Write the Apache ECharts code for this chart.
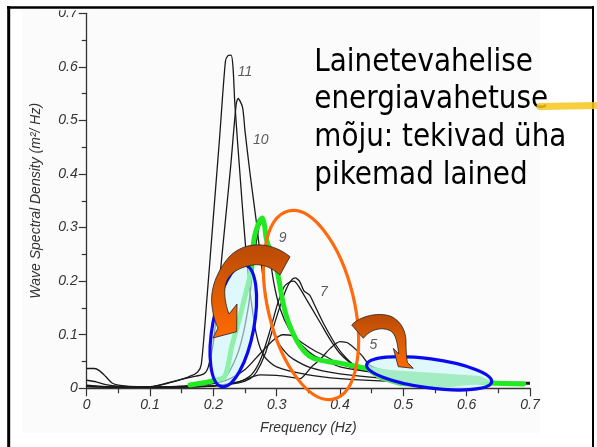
<!DOCTYPE html>
<html><head><meta charset="utf-8">
<script src="https://cdn.jsdelivr.net/npm/echarts@6/dist/echarts.min.js"></script>
<style>html,body{margin:0;padding:0;background:#fff}#c{width:597px;height:447px}</style>
</head><body><div id="c"></div>
<script>
// ---- tick labels ----
const xTickLabels = ['0','0.1','0.2','0.3','0.4','0.5','0.6','0.7'];
const yTickLabels = ['0','0.1','0.2','0.3','0.4','0.5','0.6','0.7'];

// ---- spectra [frequency Hz, density m^2/Hz] ----
const curve11 = [[0,0.015],[0.015,0.012],[0.03,0.007],[0.05,0.004],[0.1,0.003],[0.13,0.01],[0.16,0.021],[0.175,0.03],[0.181,0.045],[0.19,0.17],[0.2,0.32],[0.21,0.47],[0.219,0.61],[0.223,0.621],[0.228,0.622],[0.231,0.6],[0.234,0.53],[0.242,0.4],[0.25,0.277],[0.258,0.18],[0.268,0.1],[0.28,0.06],[0.3,0.04],[0.35,0.025],[0.4,0.018],[0.5,0.012],[0.6,0.01],[0.7,0.008]];
const curve10 = [[0,0.037],[0.012,0.037],[0.02,0.033],[0.03,0.022],[0.04,0.01],[0.05,0.006],[0.08,0.003],[0.1,0.003],[0.14,0.014],[0.165,0.021],[0.185,0.027],[0.192,0.04],[0.2,0.085],[0.208,0.18],[0.216,0.277],[0.227,0.41],[0.236,0.53],[0.239,0.541],[0.246,0.525],[0.25,0.48],[0.258,0.4],[0.268,0.31],[0.277,0.22],[0.288,0.14],[0.3,0.09],[0.32,0.06],[0.35,0.04],[0.4,0.027],[0.5,0.016],[0.6,0.011],[0.7,0.009]];
const curve9 = [[0,0.006],[0.05,0.002],[0.1,0.002],[0.15,0.004],[0.2,0.01],[0.22,0.022],[0.24,0.07],[0.255,0.15],[0.265,0.25],[0.272,0.3],[0.278,0.312],[0.285,0.28],[0.295,0.2],[0.305,0.15],[0.32,0.11],[0.34,0.08],[0.36,0.06],[0.374,0.053],[0.4,0.04],[0.45,0.03],[0.5,0.02],[0.6,0.012],[0.7,0.01]];
const curve8 = [[0,0.005],[0.05,0.002],[0.1,0.002],[0.2,0.004],[0.24,0.012],[0.26,0.025],[0.275,0.055],[0.29,0.11],[0.302,0.16],[0.312,0.19],[0.32,0.198],[0.327,0.2],[0.335,0.19],[0.345,0.17],[0.355,0.15],[0.37,0.12],[0.385,0.09],[0.4,0.065],[0.42,0.045],[0.45,0.032],[0.5,0.022],[0.6,0.013],[0.7,0.011]];
const curve7 = [[0,0.004],[0.05,0.002],[0.1,0.002],[0.2,0.004],[0.24,0.01],[0.258,0.018],[0.268,0.03],[0.282,0.065],[0.295,0.115],[0.305,0.152],[0.315,0.185],[0.322,0.2],[0.329,0.206],[0.336,0.2],[0.343,0.182],[0.352,0.174],[0.36,0.155],[0.374,0.121],[0.395,0.078],[0.41,0.056],[0.426,0.04],[0.45,0.03],[0.5,0.02],[0.6,0.012],[0.7,0.01]];
const curve6 = [[0,0.003],[0.1,0.002],[0.18,0.006],[0.22,0.015],[0.25,0.035],[0.274,0.065],[0.295,0.09],[0.31,0.1],[0.325,0.098],[0.34,0.085],[0.36,0.07],[0.38,0.058],[0.4,0.045],[0.45,0.03],[0.5,0.02],[0.6,0.012],[0.7,0.01]];
const curve5 = [[0,0.003],[0.05,0.002],[0.1,0.002],[0.2,0.005],[0.24,0.012],[0.274,0.025],[0.3,0.024],[0.321,0.021],[0.337,0.018],[0.345,0.026],[0.355,0.04],[0.368,0.053],[0.385,0.075],[0.4,0.087],[0.413,0.084],[0.434,0.062],[0.447,0.043],[0.47,0.032],[0.495,0.025],[0.55,0.016],[0.6,0.012],[0.7,0.01]];
const curves = [curve11, curve10, curve9, curve8, curve7, curve6, curve5];

// ---- curve labels ----
const curveNames = ['11','10','9','7','5'];
const curveLabelFreq = [0.25,0.2747,0.3095,0.3747,0.4526];
const curveLabelValue = [0.59,0.4627,0.28,0.18,0.081];

// ---- hand-drawn green trend line ----
const trendLine = [[0.163,0.006],[0.2,0.014],[0.218,0.022],[0.229,0.078],[0.242,0.134],[0.255,0.196],[0.26,0.22],[0.264,0.277],[0.272,0.31],[0.277,0.318],[0.281,0.302],[0.284,0.277],[0.3,0.222],[0.31,0.16],[0.318,0.125],[0.332,0.088],[0.345,0.067],[0.358,0.056],[0.38,0.05],[0.4,0.047],[0.442,0.037],[0.5,0.025],[0.56,0.017],[0.637,0.01],[0.69,0.008]];
const greenBand = [[0.4447,0.0403],[0.4789,0.0341],[0.5579,0.028],[0.621,0.023],[0.6368,0.0142],[0.621,0.008],[0.5579,0.0006],[0.4947,0.0043],[0.463,0.0155],[0.444,0.03]];

// ---- annotation text ----
const textLines = ['Lainetevahelise','energiavahetuse','mõju: tekivad üha','pikemad lained'];

const chart = echarts.init(document.getElementById('c'), null, {renderer:'canvas'});
const axisFont = {fontFamily:'Liberation Sans', fontStyle:'italic', color:'#333', fontSize:14};
const series = curves.map(c => ({
  type:'line', data:c, showSymbol:false, smooth:0.25, silent:true, z:2,
  lineStyle:{color:'#1a1a1a', width:1.3}
}));
series.push({
  type:'line', data:trendLine, showSymbol:false, smooth:0.3, silent:true, z:3,
  lineStyle:{color:'#22ea22', width:5, cap:'round'}
});
series.push({
  type:'scatter', symbolSize:0, silent:true, z:4,
  data: curveNames.map((n,i)=>({value:[curveLabelFreq[i], curveLabelValue[i]], name:n})),
  label:{show:true, position:'inside', formatter:p=>p.name, fontFamily:'Liberation Sans', fontStyle:'italic', fontSize:14, color:'#333'}
});

chart.setOption({
  animation:false,
  backgroundColor:'#fff',
  grid:{left:86.7, right:67, top:13.3, bottom:58.7},
  xAxis:{type:'value', min:0, max:0.7, interval:0.1,
    name:'Frequency (Hz)', nameLocation:'middle', nameGap:33,
    nameTextStyle:{fontFamily:'Liberation Sans', fontStyle:'italic', color:'#333', fontSize:14},
    axisLine:{show:true, lineStyle:{color:'#333', width:1.3}},
    axisTick:{show:true, inside:false, length:8, lineStyle:{color:'#333', width:1.2}},
    minorTick:{show:true, splitNumber:2, length:5, lineStyle:{color:'#333', width:1.2}},
    splitLine:{show:false},
    axisLabel:Object.assign({margin:10, formatter:v=>xTickLabels[Math.round(v*10)]}, axisFont)
  },
  yAxis:{type:'value', min:0, max:0.7, interval:0.1,
    name:'Wave Spectral Density (m²/ Hz)', nameLocation:'middle', nameGap:44,
    nameTextStyle:{fontFamily:'Liberation Sans', fontStyle:'italic', color:'#333', fontSize:14},
    axisLine:{show:true, lineStyle:{color:'#333', width:1.3}},
    axisTick:{show:true, inside:false, length:8, lineStyle:{color:'#333', width:1.2}},
    minorTick:{show:true, splitNumber:2, length:5, lineStyle:{color:'#333', width:1.2}},
    splitLine:{show:false},
    axisLabel:Object.assign({margin:9, formatter:v=>yTickLabels[Math.round(v*10)]}, axisFont)
  },
  series: series
});

// sample a simple M/L/C path description into polygon points
function pathPoints(d){
  const tok = d.match(/[MLCZ]|-?\d*\.?\d+/g);
  const pts = []; let i = 0, cx = 0, cy = 0, cmd = '';
  while (i < tok.length){
    if (/[MLCZ]/.test(tok[i])) { cmd = tok[i++]; if (cmd === 'Z') continue; }
    if (cmd === 'M' || cmd === 'L'){ cx = +tok[i++]; cy = +tok[i++]; pts.push([cx,cy]); }
    else if (cmd === 'C'){
      const x1=+tok[i++], y1=+tok[i++], x2=+tok[i++], y2=+tok[i++], x3=+tok[i++], y3=+tok[i++];
      for (let k=1;k<=12;k++){ const t=k/12, u=1-t;
        pts.push([u*u*u*cx+3*u*u*t*x1+3*u*t*t*x2+t*t*t*x3, u*u*u*cy+3*u*u*t*y1+3*u*t*t*y2+t*t*t*y3]); }
      cx = x3; cy = y3;
    } else i++;
  }
  return pts;
}
const arrow1 = 'M290,256.7 C270,240 240,240 225,262 C215,276 210,292 212,306 C213,315 215,322 218,328 L213,338 L236.7,331.7 L237,304 L229,314 C226,306 224,296 225,288 C226,278 232,270 248,266 C262,262 272,268 280,275 Z';
const arrow2 = 'M351.7,325 C360,316 378,312 390,316 C400,320 406,330 406,342 C406,350 406.5,356 407.3,362.3 L413.3,368.3 L398.3,366.7 L393.3,348.3 L398.8,354 C397.5,346 397,337 392,332 C386,327 372,327 363.3,338.3 Z';

const P = (f,v) => chart.convertToPixel({xAxisIndex:0, yAxisIndex:0}, [f,v]);
const b1 = P(0.2315,0.1166), b2 = P(0.5408,0.028), oc = P(0.3542,0.1554);
const arrowFill = {type:'linear', x:0, y:0, x2:0, y2:1, colorStops:[
  {offset:0, color:'#b94a06'},{offset:0.45, color:'#d95a06'},{offset:1, color:'#ff6a00'}]};
const graphics = [
  {type:'rect', z:-1, shape:{x:22, y:9, width:518, height:424}, style:{fill:'#fbfbfb'}, silent:true},
  {type:'polygon', z:9, shape:{points:greenBand.map(p=>P(p[0],p[1]))}, style:{fill:'#5fdc6a'}, silent:true},
  {type:'ellipse', z:10, x:b1[0], y:b1[1], rotation:-0.187, shape:{cx:0, cy:0, rx:20.6, ry:61.9},
    style:{fill:'rgba(205,246,252,0.62)', stroke:'#0a0aee', lineWidth:3.2}, silent:true},
  {type:'ellipse', z:10, x:b2[0], y:b2[1], rotation:-0.135, shape:{cx:0, cy:0, rx:63.1, ry:14.5},
    style:{fill:'rgba(205,246,252,0.62)', stroke:'#0a0aee', lineWidth:3.2}, silent:true},
  {type:'ellipse', z:10, x:oc[0], y:oc[1], rotation:0.236, shape:{cx:0, cy:0, rx:43, ry:96.7},
    style:{fill:'none', stroke:'#ff6a0d', lineWidth:3.2}, silent:true},
  {type:'polygon', z:11, shape:{points:pathPoints(arrow1)},
    style:{fill:arrowFill, stroke:'#222', lineWidth:0.8, lineJoin:'round'}, silent:true},
  {type:'polygon', z:11, shape:{points:pathPoints(arrow2)},
    style:{fill:arrowFill, stroke:'#222', lineWidth:0.8, lineJoin:'round'}, silent:true},
  {type:'rect', z:50, shape:{x:40, y:0, width:50, height:10.3}, style:{fill:'#fff'}, silent:true},
  {type:'line', z:60, shape:{x1:8.7, y1:6, x2:8.7, y2:460}, style:{stroke:'#000', lineWidth:3}, silent:true},
  {type:'line', z:60, shape:{x1:7, y1:7.5, x2:594, y2:7.5}, style:{stroke:'#000', lineWidth:2.5}, silent:true},
  {type:'line', z:60, shape:{x1:593, y1:6, x2:593, y2:460}, style:{stroke:'#000', lineWidth:2}, silent:true},
  {type:'polyline', z:62, shape:{points:[[540,106.5],[570,106],[597,105.5]]}, style:{stroke:'rgba(244,198,28,0.85)', lineWidth:7, lineCap:'round'}, silent:true}
];
textLines.forEach((t,i)=>{
  graphics.push({type:'text', z:20, x:314.3, y:62.2 + 37.8*i, scaleX:0.87, silent:true,
    style:{text:t, fontFamily:'DejaVu Sans', fontSize:32, fill:'#000', align:'left', verticalAlign:'middle'}});
});
chart.setOption({graphic:graphics});
</script></body></html>
